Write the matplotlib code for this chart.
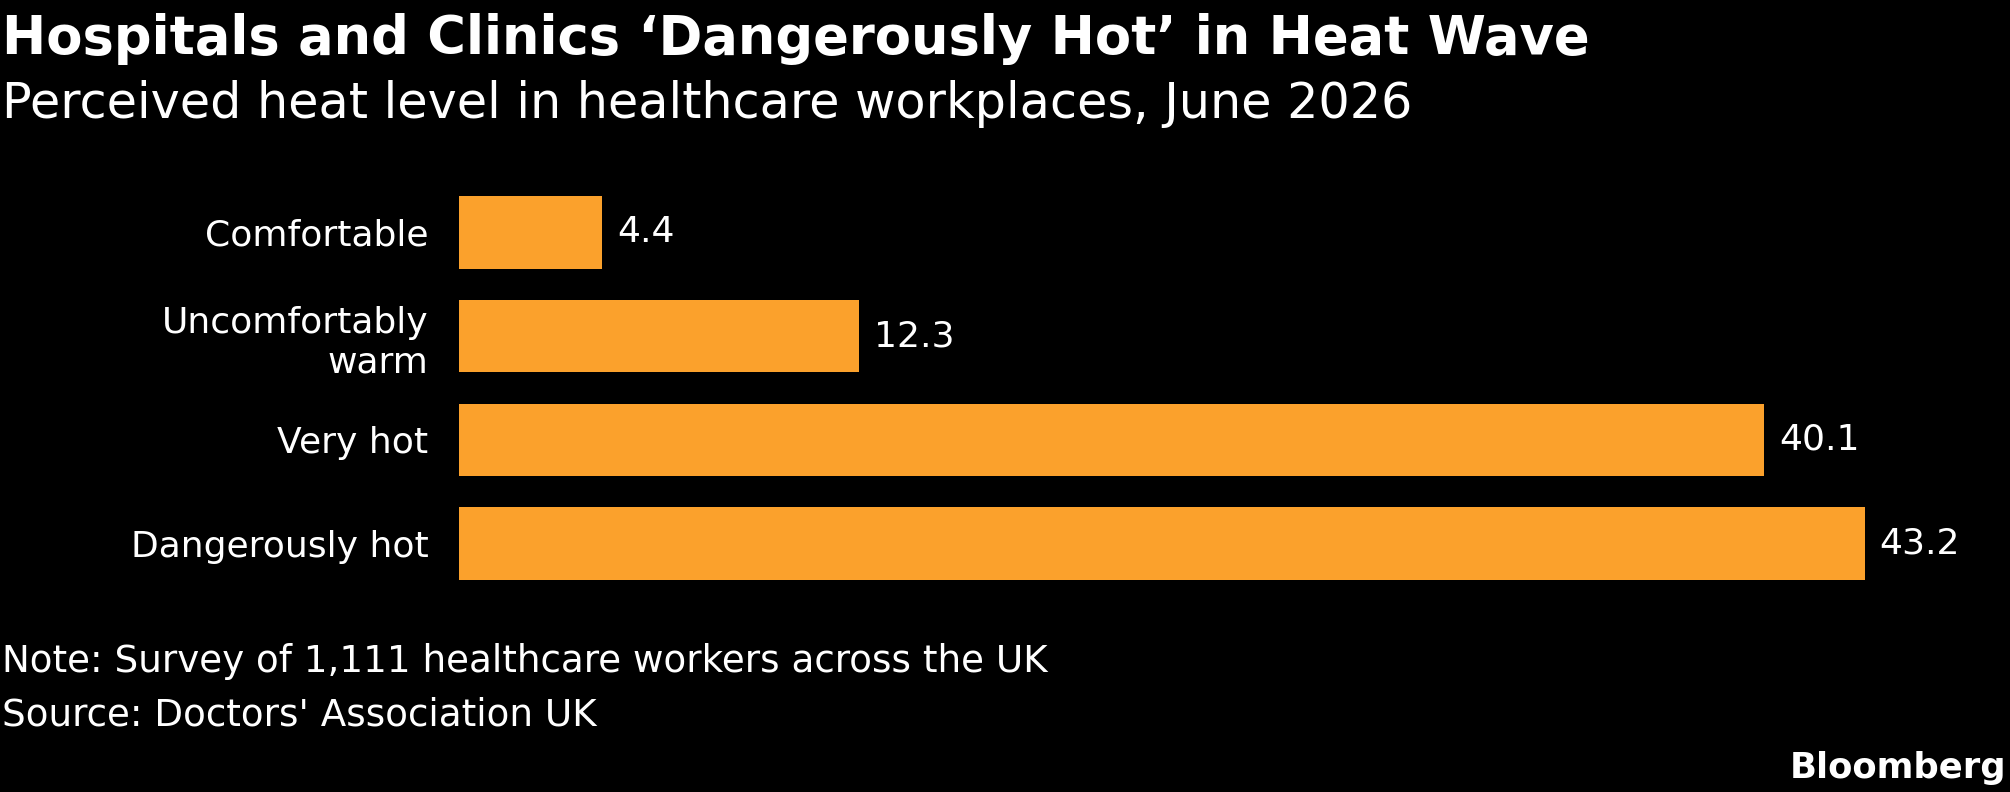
import matplotlib.pyplot as plt
import numpy as np

categories = ["Comfortable", "Uncomfortably\nwarm", "Very hot", "Dangerously hot"]
values = [4.4, 12.3, 40.1, 43.2]

title = "Hospitals and Clinics \u2018Dangerously Hot\u2019 in Heat Wave"
subtitle = "Perceived heat level in healthcare workplaces, June 2026"
note = "Note: Survey of 1,111 healthcare workers across the UK"
source = "Source: Doctors' Association UK"

W, H = 2010, 792
bar_color = "#FBA12C"

fig = plt.figure(figsize=(W / 100, H / 100), dpi=100, facecolor="black")

# axes placed in pixel terms to line up with the reference
left, right = 459, 1865
top, bottom = 180.5, 595.5
ax = fig.add_axes([left / W, 1 - bottom / H, (right - left) / W, (bottom - top) / H])
ax.set_facecolor("black")

y = np.arange(len(categories))
ax.barh(y, values, height=0.70, color=bar_color)
ax.set_xlim(0, max(values))
ax.set_ylim(len(categories) - 0.5, -0.5)

for yi, v in zip(y, values):
    ax.text(v + 0.45, yi, f"{v:.1f}", color="white", fontsize=26, va="center", ha="left")

ax.set_yticks(y)
ax.set_yticklabels(categories, color="white", fontsize=26, linespacing=1.2)
ax.tick_params(axis="y", length=0, pad=22)
ax.set_xticks([])
for s in ax.spines.values():
    s.set_visible(False)

fig.text(2 / W, 1 - 54 / H, title, color="white", fontsize=38, fontweight="bold",
         ha="left", va="baseline")
fig.text(2 / W, 1 - 118 / H, subtitle, color="white", fontsize=35.5,
         ha="left", va="baseline")
fig.text(2 / W, 1 - 672 / H, note, color="white", fontsize=26.8, ha="left", va="baseline")
fig.text(2 / W, 1 - 725 / H, source, color="white", fontsize=26.8, ha="left", va="baseline")
fig.text(2006 / W, 1 - 778 / H, "Bloomberg", color="white", fontsize=25.5, fontweight="bold",
         ha="right", va="baseline")

fig.savefig("out.png", dpi=100, facecolor="black")
